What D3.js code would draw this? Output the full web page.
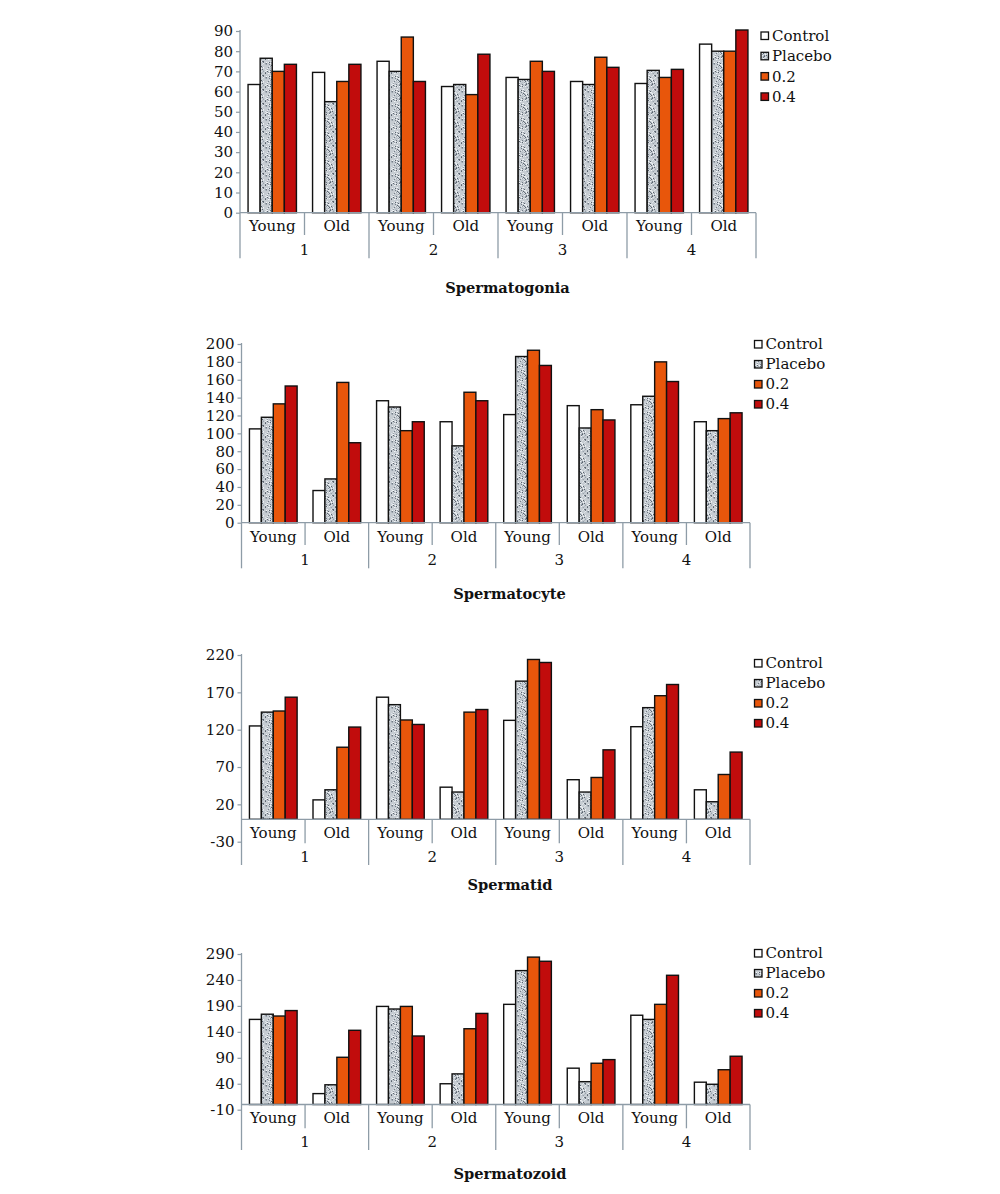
<!DOCTYPE html>
<html>
<head>
<meta charset="utf-8">
<script src="https://cdn.jsdelivr.net/npm/d3@7"></script>
<style>
  html, body { margin: 0; padding: 0; background: #ffffff; }
  svg { display: block; }
  text { font-family: "DejaVu Serif", "Liberation Serif", serif; fill: #111; }
</style>
</head>
<body>
<svg id="chart" width="1000" height="1194"></svg>
<script>
// ---------------- data ----------------
const seriesNames = ["Control", "Placebo", "0.2", "0.4"];
const ageLabels = ["Young", "Old"];
const groupLabels = ["1", "2", "3", "4"];

// rows: 1-Young, 1-Old, 2-Young, 2-Old, 3-Young, 3-Old, 4-Young, 4-Old ; columns: Control, Placebo, 0.2, 0.4
const spermatogonia = [
  [63.5, 76.5, 70, 73.5], [69.5, 55, 65, 73.5],
  [75, 70, 87, 65], [62.5, 63.5, 58.5, 78.5],
  [67, 66, 75, 70], [65, 63.5, 77, 72],
  [64, 70.5, 67, 71], [83.5, 80, 80, 90.5]
];
const spermatocyte = [
  [105, 118, 133, 153], [36, 49, 157, 89.5],
  [136.5, 129.5, 103, 113], [113, 86, 146, 136.5],
  [121, 186, 193, 176], [131, 106, 126.5, 115],
  [132, 141.5, 180, 158], [113, 103, 116.5, 123]
];
const spermatid = [
  [125, 143.5, 145, 163.5], [26, 39.5, 96.5, 123.5],
  [163.5, 153.5, 133, 127], [43, 36.5, 143.5, 147],
  [132.5, 185, 214, 210], [53, 36.5, 56, 93],
  [124, 149.5, 165.5, 180.5], [39.5, 23.5, 60, 90]
];
const spermatozoid = [
  [164, 174, 170.5, 181], [21, 38, 91, 143],
  [189, 184, 189, 132], [40, 59, 146, 175.5],
  [193, 258, 284, 276], [70, 44, 79.5, 86.5],
  [172, 164, 193, 249], [43, 39, 67, 93]
];

const ticksSpermatogonia = [0, 10, 20, 30, 40, 50, 60, 70, 80, 90];
const ticksSpermatocyte = [0, 20, 40, 60, 80, 100, 120, 140, 160, 180, 200];
const ticksSpermatid = [-30, 20, 70, 120, 170, 220];
const ticksSpermatozoid = [-10, 40, 90, 140, 190, 240, 290];

const titles = ["Spermatogonia", "Spermatocyte", "Spermatid", "Spermatozoid"];

// ---------------- layout ----------------
const layouts = [
  { data: spermatogonia, ticks: ticksSpermatogonia, domain: [0, 90], yTop: 31, yBottom: 212.7,
    x0: 240, x1: 756, subBottom: 235, majorBottom: 258.3, subLabelY: 225.7, majorLabelY: 250,
    titleX: 507.5, titleY: 288, legendX: 760.5, legendY: 35.5, legendStep: 20.3 },
  { data: spermatocyte, ticks: ticksSpermatocyte, domain: [0, 200], yTop: 344, yBottom: 522.7,
    x0: 241.5, x1: 750, subBottom: 545, majorBottom: 568.3, subLabelY: 536.7, majorLabelY: 560,
    titleX: 509.5, titleY: 593.3, legendX: 754, legendY: 344, legendStep: 20 },
  { data: spermatid, ticks: ticksSpermatid, domain: [-30, 220], yTop: 655, yBottom: 841.7,
    x0: 241.5, x1: 750, subBottom: 843.3, majorBottom: 865, subLabelY: 832.7, majorLabelY: 856.7,
    titleX: 510, titleY: 885, legendX: 754, legendY: 663, legendStep: 20 },
  { data: spermatozoid, ticks: ticksSpermatozoid, domain: [-10, 290], yTop: 954, yBottom: 1109.7,
    x0: 241.5, x1: 750, subBottom: 1128.3, majorBottom: 1150, subLabelY: 1117.7, majorLabelY: 1141.7,
    titleX: 510, titleY: 1173.3, legendX: 754, legendY: 953, legendStep: 20 }
];

const axisColor = "#8e9ca7";
const svg = d3.select("#chart");

// placebo speckled texture
const defs = svg.append("defs");
const pat = defs.append("pattern").attr("id", "speckle")
  .attr("patternUnits", "userSpaceOnUse").attr("width", 14).attr("height", 14);
pat.append("rect").attr("width", 14).attr("height", 14).attr("fill", "#c6ccd2");
const speckShades = ["#e8ecef", "#98a1aa", "#dde2e7", "#727b86", "#b3bbc3", "#f3f5f7", "#59626c"];
for (let i = 0; i < 14; i++) {
  for (let j = 0; j < 14; j++) {
    const h = (i * 73 + j * 151 + i * j * 37) % 17;
    if (h < 7) {
      pat.append("rect").attr("x", i).attr("y", j).attr("width", 1).attr("height", 1)
        .attr("fill", speckShades[h]);
    }
  }
}
const fills = { "Control": "#ffffff", "Placebo": "url(#speckle)", "0.2": "#e8560b", "0.4": "#c10c0c" };

const categories = d3.range(8);

layouts.forEach((L, ci) => {
  const g = svg.append("g");
  const y = d3.scaleLinear().domain(L.domain).range([L.yBottom, L.yTop]);
  const x = d3.scaleBand().domain(categories).range([L.x0, L.x1]).paddingInner(0).paddingOuter(0);
  const step = x.bandwidth();
  const xs = d3.scaleBand().domain(seriesNames).range([step * 0.125, step * 0.875]).padding(0);
  const y0 = y(0);

  // bars
  categories.forEach(c => {
    seriesNames.forEach((s, si) => {
      const v = L.data[c][si];
      g.append("rect")
        .attr("x", x(c) + xs(s))
        .attr("y", Math.min(y(v), y0))
        .attr("width", xs.bandwidth())
        .attr("height", Math.abs(y0 - y(v)))
        .attr("fill", fills[s])
        .attr("stroke", "#111")
        .attr("stroke-width", 1.4);
    });
  });

  // y axis
  const yAxis = d3.axisLeft(y).tickValues(L.ticks).tickSize(4).tickPadding(3).tickFormat(d => String(d));
  const ya = g.append("g").attr("transform", `translate(${L.x0},0)`).call(yAxis);
  ya.select(".domain").remove();
  ya.selectAll(".tick line").attr("stroke", axisColor).attr("stroke-width", 1.2);
  ya.selectAll(".tick text").attr("font-size", 15).attr("fill", "#111")
    .attr("font-family", "DejaVu Serif, serif");

  g.append("line").attr("x1", L.x0).attr("x2", L.x0).attr("y1", L.yTop - 1).attr("y2", L.majorBottom)
    .attr("stroke", axisColor).attr("stroke-width", 1.3);

  // category axis line
  g.append("line").attr("x1", L.x0).attr("x2", L.x1).attr("y1", y0).attr("y2", y0)
    .attr("stroke", axisColor).attr("stroke-width", 1.3);

  // separators
  categories.forEach(c => {
    const bx = x(c) + step;
    const major = (c % 2) === 1;
    g.append("line").attr("x1", bx).attr("x2", bx).attr("y1", y0)
      .attr("y2", major ? L.majorBottom : L.subBottom)
      .attr("stroke", axisColor).attr("stroke-width", 1.3);
  });

  // Young / Old labels
  categories.forEach(c => {
    g.append("text").attr("x", x(c) + step / 2).attr("y", L.subLabelY).attr("dy", "0.36em")
      .attr("text-anchor", "middle").attr("font-size", 15).text(ageLabels[c % 2]);
  });
  // group labels
  groupLabels.forEach((lab, gi) => {
    const cx = x(gi * 2) + step;
    g.append("text").attr("x", cx).attr("y", L.majorLabelY).attr("dy", "0.36em")
      .attr("text-anchor", "middle").attr("font-size", 15).text(lab);
  });

  // title
  g.append("text").attr("x", L.titleX).attr("y", L.titleY).attr("dy", "0.36em")
    .attr("text-anchor", "middle").attr("font-size", 14.6).attr("font-weight", "bold")
    .text(titles[ci]);

  // legend
  seriesNames.forEach((s, si) => {
    const ly = L.legendY + si * L.legendStep;
    g.append("rect").attr("x", L.legendX + 0.5).attr("y", ly - 3.5).attr("width", 7.5).attr("height", 7.5)
      .attr("fill", fills[s]).attr("stroke", "#111").attr("stroke-width", 1.3);
    g.append("text").attr("x", L.legendX + 11.5).attr("y", ly).attr("dy", "0.36em")
      .attr("font-size", 15).text(s);
  });
});
</script>
</body>
</html>
